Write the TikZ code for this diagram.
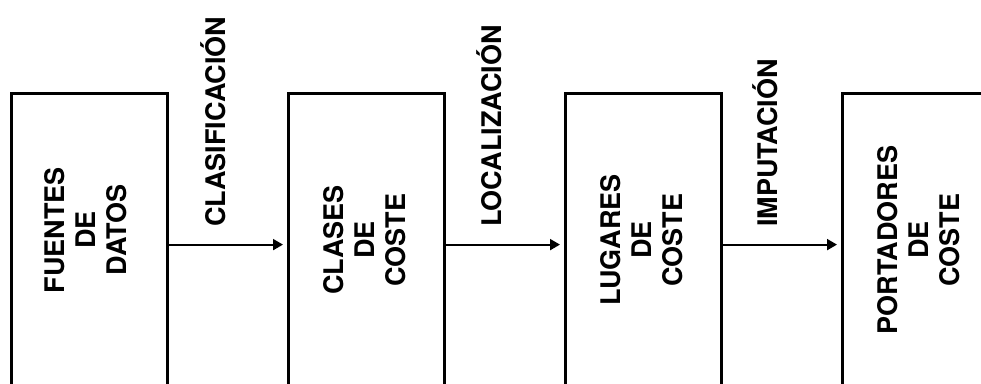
\documentclass[tikz,border=0pt]{standalone}
\usepackage{fontspec}
\setmainfont{TeX Gyre Heros}
\usetikzlibrary{arrows.meta}
\begin{document}
\begin{tikzpicture}[x=1pt,y=-1pt,
  box/.style={draw=black, line width=3.2pt, minimum width=156pt, minimum height=302pt, anchor=north west, inner sep=0pt},
  boxtext/.style={rotate=90, align=center, inner sep=0pt, font=\fontsize{27}{31}\selectfont\bfseries},
  flowlabel/.style={rotate=90, anchor=base west, inner sep=0pt, font=\fontsize{27}{31}\selectfont\bfseries},
  arr/.style={draw=black, line width=2pt, -{Triangle[length=10pt,width=11pt]}, shorten >=4pt}]
\useasboundingbox (0,0) rectangle (981,383);
\clip (0,0) rectangle (981,383);
\node[box] (b1) at (10,92) {};
\node[box] (b2) at (287,92) {};
\node[box] (b3) at (564,92) {};
\node[box] (b4) at (841,92) {};
\node[boxtext] (t1) at (86,230) {FUENTES\\DE\\DATOS};
\node[boxtext] (t2) at (365,240) {CLASES\\DE\\COSTE};
\node[boxtext] (t3) at (642,240) {LUGARES\\DE\\COSTE};
\node[boxtext] (t4) at (919,240) {PORTADORES\\DE\\COSTE};
\draw[arr] (b1.east) -- (b2.west);
\draw[arr] (b2.east) -- (b3.west);
\draw[arr] (b3.east) -- (b4.west);
\node[flowlabel] (l1) at (225,227) {CLASIFICACIÓN};
\node[flowlabel] (l2) at (501,227) {LOCALIZACIÓN};
\node[flowlabel] (l3) at (777,227) {IMPUTACIÓN};
\end{tikzpicture}
\end{document}
